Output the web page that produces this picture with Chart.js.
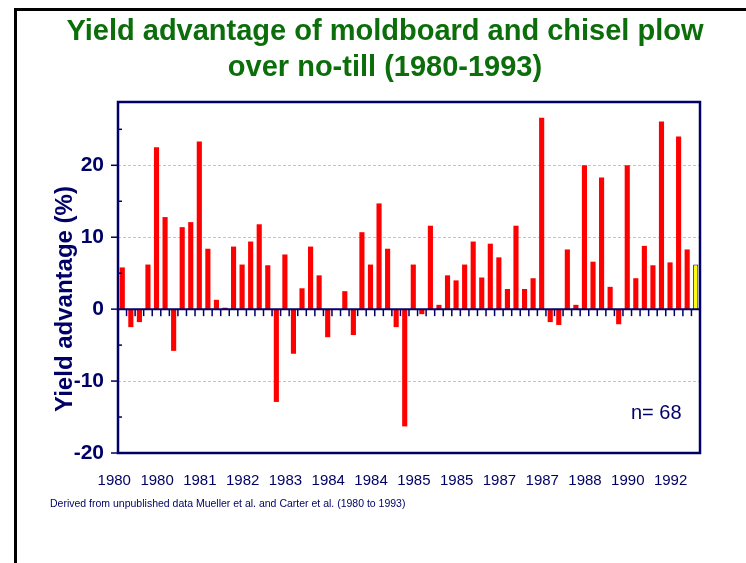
<!DOCTYPE html>
<html>
<head>
<meta charset="utf-8">
<script src="https://cdn.jsdelivr.net/npm/chart.js@4.4.1/dist/chart.umd.min.js"></script>
<style>
  html, body { margin: 0; padding: 0; background: #fff; }
  canvas { display: block; }
</style>
</head>
<body>
<canvas id="chart" width="746" height="563"></canvas>
<script>
const titleLines = ['Yield advantage of moldboard and chisel plow', 'over no-till (1980-1993)'];
const yTitle = 'Yield advantage (%)';
const nLabel = 'n= 68';
const sourceNote = 'Derived from unpublished data Mueller et al. and Carter et al. (1980 to 1993)';

// one label every 5th comparison
const xTickLabels = ['1980', '1980', '1981', '1982', '1983', '1984', '1984',
  '1985', '1985', '1987', '1987', '1988', '1990', '1992'];

// yield advantage (%), 68 comparisons, last one is the mean
const advantage = [
  5.8, -2.5, -1.8, 6.2, 22.5, 12.8, -5.8, 11.4, 12.1, 23.3,
  8.4, 1.3, 0.2, 8.7, 6.2, 9.4, 11.8, 6.1, -12.9, 7.6,
  -6.2, 2.9, 8.7, 4.7, -3.9, 0, 2.5, -3.6, 10.7, 6.2,
  14.7, 8.4, -2.5, -16.3, 6.2, -0.7, 11.6, 0.6, 4.7, 4.0,
  6.2, 9.4, 4.4, 9.1, 7.2, 2.8, 11.6, 2.8, 4.3, 26.6,
  -1.8, -2.2, 8.3, 0.6, 20.0, 6.6, 18.3, 3.1, -2.1, 20.0,
  4.3, 8.8, 6.1, 26.1, 6.5, 24.0, 8.3, 6.2
];

const yTickValues = [-20, -15, -10, -5, 0, 5, 10, 15, 20, 25];
const yMin = -20;
const yMax = 28.8;

const NAVY = '#000066';
const GREEN = '#0b6e0b';
const FONT = 'Arial, "Liberation Sans", sans-serif';

const categories = advantage.map((v, i) => i % 5 === 0 ? xTickLabels[i / 5] : '');
const lastIdx = advantage.length - 1;
const barColors = advantage.map((v, i) => i === lastIdx ? '#ffff00' : '#ff0000');
const barBorders = advantage.map((v, i) => i === lastIdx ? 1 : 0);

const slideDecor = {
  id: 'slideDecor',
  beforeDraw(chart) {
    const ctx = chart.ctx;
    ctx.save();
    ctx.fillStyle = '#fff';
    ctx.fillRect(0, 0, chart.width, chart.height);
    // slide frame
    ctx.fillStyle = '#000';
    ctx.fillRect(14, 8, chart.width - 14, 3);
    ctx.fillRect(14, 8, 3, chart.height - 8);
    ctx.restore();
  },
  beforeDatasetsDraw(chart) {
    const {ctx, chartArea: a, scales: {y}} = chart;
    ctx.save();
    ctx.strokeStyle = '#c4c4c4';
    ctx.lineWidth = 1;
    ctx.setLineDash([3, 2]);
    yTickValues.forEach(v => {
      if (v % 10 !== 0 || v === 0 || v === yMin) return;
      const py = Math.round(y.getPixelForValue(v)) + 0.5;
      ctx.beginPath();
      ctx.moveTo(a.left, py);
      ctx.lineTo(a.right, py);
      ctx.stroke();
    });
    ctx.restore();
  },
  afterDatasetsDraw(chart) {
    const {ctx, chartArea: a, scales: {x, y}} = chart;
    const y0 = y.getPixelForValue(0);
    ctx.save();
    ctx.strokeStyle = NAVY;

    // zero line with ticks hanging below it
    ctx.lineWidth = 2;
    ctx.beginPath();
    ctx.moveTo(a.left, y0);
    ctx.lineTo(a.right, y0);
    ctx.stroke();
    ctx.lineWidth = 1.5;
    for (let i = 1; i < advantage.length; i++) {
      const px = (x.getPixelForValue(i - 1) + x.getPixelForValue(i)) / 2;
      ctx.beginPath();
      ctx.moveTo(px, y0);
      ctx.lineTo(px, y0 + 7);
      ctx.stroke();
    }

    // y ticks: major outside, minor inside
    yTickValues.forEach(v => {
      const py = y.getPixelForValue(v);
      ctx.beginPath();
      if (v % 10 === 0) {
        ctx.moveTo(a.left - 7, py);
        ctx.lineTo(a.left, py);
      } else {
        ctx.moveTo(a.left, py);
        ctx.lineTo(a.left + 4, py);
      }
      ctx.stroke();
    });

    ctx.lineWidth = 2.5;
    ctx.strokeRect(a.left, a.top, a.right - a.left, a.bottom - a.top);
    ctx.restore();
  },
  afterDraw(chart) {
    const ctx = chart.ctx;
    ctx.save();
    ctx.textAlign = 'center';
    ctx.textBaseline = 'middle';

    ctx.fillStyle = GREEN;
    ctx.font = 'bold 29px ' + FONT;
    ctx.fillText(titleLines[0], 385, 32);
    ctx.fillText(titleLines[1], 385, 68);

    ctx.fillStyle = NAVY;
    ctx.save();
    ctx.translate(65, 299);
    ctx.rotate(-Math.PI / 2);
    ctx.font = 'bold 24px ' + FONT;
    ctx.fillText(yTitle, 0, 0);
    ctx.restore();

    ctx.textAlign = 'left';
    ctx.font = '20px ' + FONT;
    ctx.fillText(nLabel, 631, 413);

    ctx.font = '10.5px ' + FONT;
    ctx.fillText(sourceNote, 50, 504);
    ctx.restore();
  }
};

new Chart(document.getElementById('chart'), {
  type: 'bar',
  data: {
    labels: categories,
    datasets: [{
      label: 'Yield advantage',
      data: advantage,
      backgroundColor: barColors,
      borderColor: NAVY,
      borderWidth: barBorders,
      barPercentage: 0.6,
      categoryPercentage: 1
    }]
  },
  options: {
    responsive: false,
    animation: false,
    devicePixelRatio: 1,
    layout: { padding: { top: 102, left: 0, right: 46, bottom: 0 } },
    plugins: {
      legend: { display: false },
      tooltip: { enabled: false },
      title: { display: false }
    },
    scales: {
      x: {
        grid: { display: false, drawTicks: false },
        border: { display: false },
        ticks: {
          autoSkip: false,
          maxRotation: 0,
          minRotation: 0,
          padding: 19,
          labelOffset: -8,
          color: NAVY,
          font: { family: FONT, size: 15 }
        },
        afterFit: (scale) => { scale.height = 110; }
      },
      y: {
        min: yMin,
        max: yMax,
        grid: { display: false, drawTicks: false },
        border: { display: false },
        afterBuildTicks: (scale) => {
          scale.ticks = yTickValues.map(v => ({ value: v }));
        },
        ticks: {
          padding: 14,
          color: NAVY,
          font: { family: FONT, size: 21, weight: 'bold' },
          callback: (v) => v % 10 === 0 ? String(v) : ''
        },
        afterFit: (scale) => { scale.width = 118; }
      }
    }
  },
  plugins: [slideDecor]
});
</script>
</body>
</html>
